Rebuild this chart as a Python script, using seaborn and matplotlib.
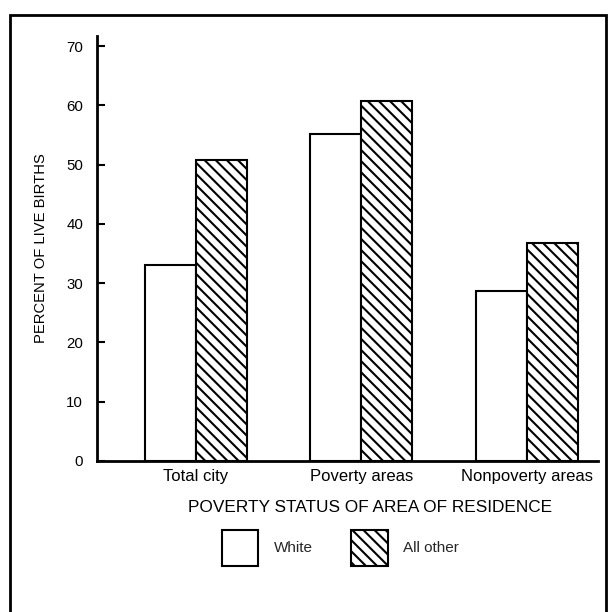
import matplotlib
matplotlib.use("Agg")
import matplotlib.pyplot as plt
from matplotlib.patches import Patch, Rectangle
import seaborn as sns
import pandas as pd

categories = ["Total city", "Poverty areas", "Nonpoverty areas"]
groups = ["White", "All other"]
white_values = [33.0, 55.2, 28.7]
other_values = [50.7, 60.7, 36.8]
y_ticks = [0, 10, 20, 30, 40, 50, 60, 70]

df = pd.DataFrame({
    "area": categories * 2,
    "race": [groups[0]] * 3 + [groups[1]] * 3,
    "pct": white_values + other_values,
})

sns.set_theme(style="white")
plt.rcParams["font.family"] = ["Liberation Sans", "DejaVu Sans"]
plt.rcParams["hatch.linewidth"] = 1.5

HATCH = "\\\\\\"

fig = plt.figure(figsize=(6.1, 6.12), dpi=100)
ax = fig.add_axes([97 / 610, 1 - 461 / 612, 501 / 610, 425 / 612])

sns.barplot(data=df, x="area", y="pct", hue="race", order=categories,
            hue_order=groups, palette=["white", "white"], width=0.616,
            gap=0, edgecolor="black", linewidth=1.5, ax=ax, legend=False)

n = len(categories)
for i, p in enumerate(ax.patches):
    if i >= n:
        p.set_hatch(HATCH)
    p.set_facecolor("white")
    p.set_edgecolor("black")

ax.set_xlim(-0.598, 2.43)
ax.set_ylim(0, 71.7)
ax.set_yticks(y_ticks)
ax.tick_params(axis="y", direction="in", length=6, width=1.5, pad=10,
               labelsize=10.8, left=True, colors="black")
ax.tick_params(axis="x", length=0, pad=6, labelsize=12, colors="black")

for side in ["top", "right"]:
    ax.spines[side].set_visible(False)
for side in ["left", "bottom"]:
    ax.spines[side].set_color("black")
    ax.spines[side].set_linewidth(2)

ax.set_ylabel("PERCENT OF LIVE BIRTHS", fontsize=10.6, color="black")
ax.yaxis.set_label_coords(-0.098, 0.5)
ax.set_xlabel("POVERTY STATUS OF AREA OF RESIDENCE", fontsize=12.4,
              color="black")
ax.xaxis.set_label_coords((370 - 97) / 501, (461 - 508) / 425)
ax.xaxis.label.set_va("center")

handles = [Patch(facecolor="white", edgecolor="black", linewidth=1.5, label=groups[0]),
           Patch(facecolor="white", edgecolor="black", linewidth=1.5, hatch=HATCH,
                 label=groups[1])]
fig.legend(handles=handles, loc="center", bbox_to_anchor=(340 / 610, 1 - 548 / 612),
           ncol=2, frameon=False, fontsize=11, handlelength=2.42, handleheight=3.19,
           handletextpad=0.98, columnspacing=2.5)

fig.patches.append(Rectangle((10 / 610, -0.05), 596 / 610, 1.05 - 15 / 612,
                             transform=fig.transFigure, fill=False,
                             edgecolor="black", linewidth=2))

fig.savefig("out.png", dpi=100, facecolor="white")
